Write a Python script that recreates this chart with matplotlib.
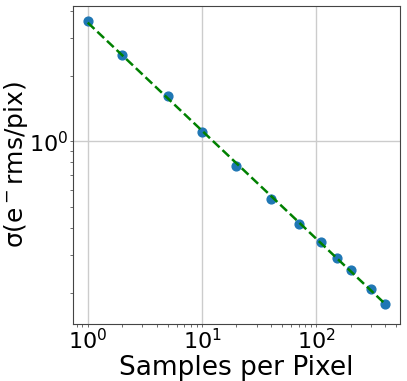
import numpy as np
import matplotlib
matplotlib.use("Agg")
import matplotlib.pyplot as plt

samples = [1, 2, 5, 10, 20, 40, 70, 110, 150, 200, 300, 400]
sigma = [3.59, 2.50, 1.62, 1.106, 0.771, 0.543, 0.417, 0.344, 0.290, 0.256, 0.209, 0.178]

x = np.array(samples, dtype=float)
y = np.array(sigma)
coef = np.polyfit(np.log10(x), np.log10(y), 1)
fit = 10 ** np.polyval(coef, np.log10(x))

fig = plt.figure(figsize=(4.07, 3.81), dpi=100)
ax = fig.add_axes([0.179, 0.150, 0.804, 0.834])
ax.scatter(x, y, s=40, color="C0", zorder=2)
ax.plot(x, fit, "g--", lw=1.8, zorder=3)
ax.set_xscale("log")
ax.set_yscale("log")
ax.set_ylim(0.144, 4.21)
ax.grid(True, which="major", color="#cccccc", lw=1)
for s in ax.spines.values():
    s.set_color("#444444")
ax.tick_params(which="both", length=2, width=0.6, color="#555555")
ax.tick_params(axis="x", which="both", labelsize=16, pad=1)
ax.tick_params(axis="y", which="both", labelsize=16, pad=1)
ax.set_xlabel("Samples per Pixel", fontsize=19, labelpad=1)
ax.set_ylabel(r"σ(e$^-$rms/pix)", fontsize=18)
ax.yaxis.set_label_coords(-0.13, 0.5)
fig.savefig("out.png", dpi=100)
